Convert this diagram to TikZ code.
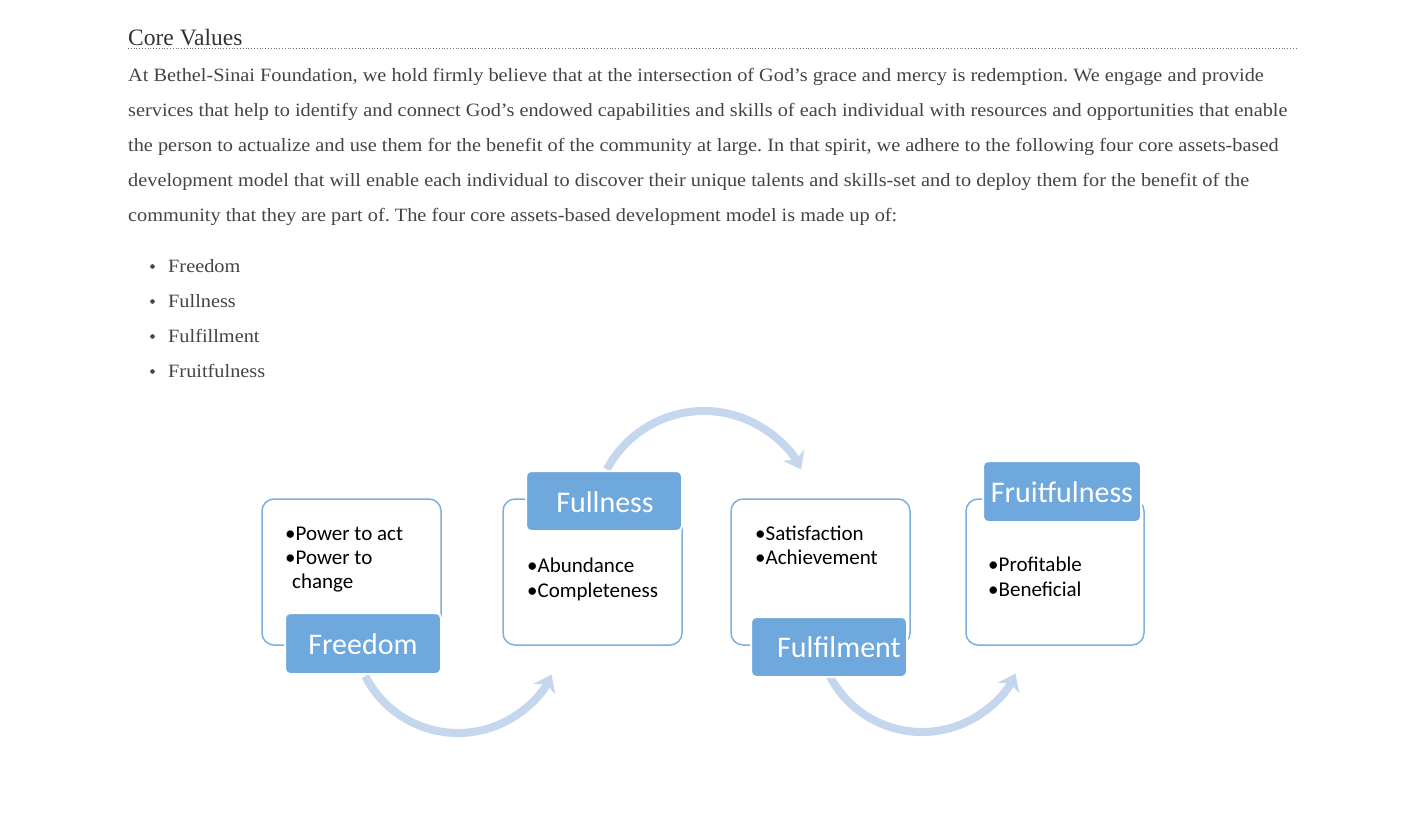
\documentclass[tikz,border=0pt]{standalone}
\usepackage{fontspec}
\setmainfont{Liberation Serif}[FakeStretch=1.08]
\newfontfamily\headfont{Liberation Serif}
\newfontfamily\calibri{Carlito}
\usetikzlibrary{arrows.meta,calc}
\frenchspacing

\definecolor{bodytext}{RGB}{68,68,68}
\definecolor{headtext}{RGB}{51,51,51}
\definecolor{frameblue}{RGB}{125,176,224}
\definecolor{labelblue}{RGB}{111,168,220}
\definecolor{flowblue}{RGB}{196,215,238}

\tikzset{
  x=1pt, y=1pt,
  textline/.style={anchor=base west, inner sep=0pt, text=bodytext,
    font=\fontsize{18.8}{22}\selectfont},
  listline/.style={textline},
  heading/.style={anchor=base west, inner sep=0pt, text=headtext,
    font=\headfont\fontsize{23.5}{27}\selectfont},
  frame/.style={draw=frameblue, line width=1.5pt, rounded corners=12pt, fill=white},
  labelbox/.style={fill=labelblue, draw=white, line width=2pt, rounded corners=5pt},
  labeltext/.style={anchor=base, inner sep=0pt, text=white,
    font=\calibri\fontsize{30}{34}\selectfont},
  itemtext/.style={anchor=base west, inner sep=0pt, text=black,
    font=\calibri\fontsize{21}{25}\selectfont},
  flow/.style={draw=flowblue, line width=8pt,
    -{Stealth[length=16pt,width=24pt,inset=5pt]}},
}

\begin{document}
\begin{tikzpicture}
\useasboundingbox[fill=white] (0,0) rectangle (1425,-825);

% heading with dotted rule
\node[heading] (title) at (128,-45) {Core Values};
\draw[headtext!70, line width=0.8pt, dotted] (128,-48.5) -- (1298,-48.5);

% body paragraph
\node[textline] (p1) at (128,-81)  {At Bethel-Sinai Foundation, we hold firmly believe that at the intersection of God’s grace and mercy is redemption. We engage and provide};
\node[textline] (p2) at (128,-116) {services that help to identify and connect God’s endowed capabilities and skills of each individual with resources and opportunities that enable};
\node[textline] (p3) at (128,-151) {the person to actualize and use them for the benefit of the community at large. In that spirit, we adhere to the following four core assets-based};
\node[textline] (p4) at (128,-186) {development model that will enable each individual to discover their unique talents and skills-set and to deploy them for the benefit of the};
\node[textline] (p5) at (128,-221) {community that they are part of. The four core assets-based development model is made up of:};

% bulleted list
\foreach \y/\word/\nm in {272/Freedom/l1, 307/Fullness/l2, 342/Fulfillment/l3, 377/Fruitfulness/l4}{
  \fill[bodytext] (152.5,-\y+5.5) circle (2.3);
  \node[listline] (\nm) at (168,-\y) {\word};
}

% curved flow arrows
\coordinate (c1) at (458,-629);
\coordinate (c2) at (704,-521);
\coordinate (c3) at (922,-628);
\draw[flow] ($(c1)+(207:104)$) arc[start angle=207, end angle=334, radius=104];
\draw[flow] ($(c2)+(152:110)$) arc[start angle=152, end angle=28, radius=110];
\draw[flow] ($(c3)+(207:104)$) arc[start angle=207, end angle=334, radius=104];

% outline frames
\draw[frame] (262,-499) rectangle (441,-645);
\draw[frame] (503,-499) rectangle (682,-645);
\draw[frame] (731,-499) rectangle (910,-645);
\draw[frame] (966,-499) rectangle (1144,-645);

% filled title tabs
\draw[labelbox] (285,-613) rectangle (441,-674);
\draw[labelbox] (526,-471) rectangle (682,-531);
\draw[labelbox] (751,-617) rectangle (907,-677);
\draw[labelbox] (983,-461) rectangle (1141,-522);

\node[labeltext] (freedom) at (363,-654) {Freedom};
\node[labeltext] (fullness) at (605,-512) {Fullness};
\node[labeltext] (fulfilment) at (839,-657) {Fulfilment};
\node[labeltext] (fruitful) at (1062,-502) {Fruitfulness};

% item lists inside the frames
\node[itemtext] (a1) at (285,-540) {•Power to act};
\node[itemtext] (a2) at (285,-564) {•Power to};
\node[itemtext] (a3) at (292,-588) {change};
\node[itemtext] (b1) at (527,-572) {•Abundance};
\node[itemtext] (b2) at (527,-597) {•Completeness};
\node[itemtext] (c1t) at (755,-540) {•Satisfaction};
\node[itemtext] (c2t) at (755,-564) {•Achievement};
\node[itemtext] (d1) at (988,-571) {•Profitable};
\node[itemtext] (d2) at (988,-596) {•Beneficial};
\end{tikzpicture}
\end{document}
